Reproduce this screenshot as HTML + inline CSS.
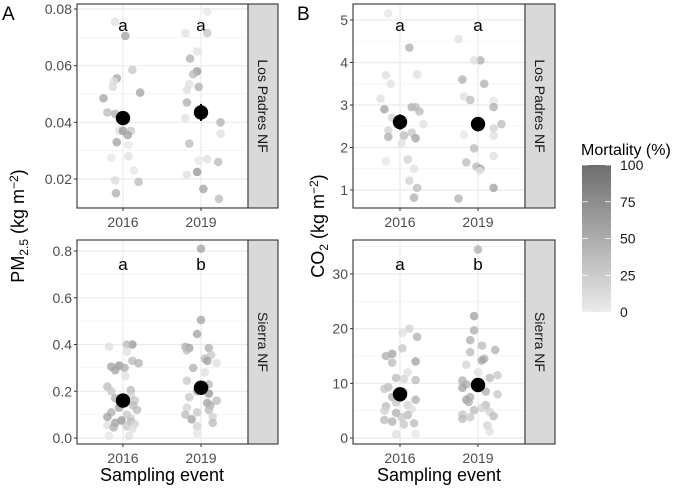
<!DOCTYPE html>
<html><head><meta charset="utf-8"><style>
body{margin:0;background:#fff}
svg{font-family:"Liberation Sans",sans-serif}
</style></head><body>
<svg id="c" width="685" height="491" xmlns="http://www.w3.org/2000/svg"></svg>
<script>
const categories=["2016","2019"];
const letters={lpA:["a","a"],snA:["a","b"],lpB:["a","a"],snB:["a","b"]};
const pmTicksLP=[0.02,0.04,0.06,0.08];
const pmTicksSN=[0.0,0.2,0.4,0.6,0.8];
const co2TicksLP=[1,2,3,4,5];
const co2TicksSN=[0,10,20,30];
const legendTicks=[0,25,50,75,100];
// [value, jitter (category units), mortality %]
const lpPM16=[[0.0755,-0.1,10],[0.0705,0.03,60],[0.0585,0.12,30],[0.0555,-0.08,60],[0.0545,-0.12,10],[0.0525,-0.13,15],[0.0505,0.22,60],[0.0485,-0.25,60],[0.0435,-0.2,40],[0.043,-0.1,50],[0.037,-0.05,10],[0.037,0,70],[0.037,0.1,30],[0.0355,0.06,60],[0.033,-0.08,60],[0.032,0.07,5],[0.028,0.07,10],[0.0275,-0.15,5],[0.023,0.14,5],[0.0195,-0.1,15],[0.019,0.2,40],[0.015,-0.09,50]];
const lpPM19=[[0.079,0.08,5],[0.0715,-0.2,10],[0.0715,0.08,30],[0.065,-0.05,10],[0.0625,-0.14,50],[0.058,-0.05,70],[0.057,-0.1,40],[0.0535,-0.15,10],[0.0525,-0.03,50],[0.0515,-0.18,10],[0.047,-0.18,50],[0.0415,-0.2,10],[0.040,0.25,50],[0.036,0.25,10],[0.0325,-0.15,40],[0.027,0.08,10],[0.0265,-0.03,5],[0.026,0.22,40],[0.0225,-0.05,70],[0.0215,-0.18,10],[0.0165,0.03,60],[0.013,0.23,40]];
const snPM16=[[0.40,0.12,70],[0.40,0.05,40],[0.39,-0.18,10],[0.37,0.05,10],[0.33,0.12,40],[0.32,0.2,50],[0.31,-0.05,70],[0.305,-0.15,60],[0.30,0.02,50],[0.29,-0.1,60],[0.265,0.03,10],[0.22,-0.2,40],[0.205,0.1,40],[0.20,-0.15,30],[0.18,0.1,20],[0.17,-0.1,50],[0.16,0.15,30],[0.14,0.13,40],[0.13,-0.05,60],[0.12,0.18,40],[0.11,-0.15,50],[0.10,0.05,30],[0.09,-0.2,60],[0.085,0.1,20],[0.075,-0.02,70],[0.07,0.1,40],[0.065,-0.1,60],[0.06,0.15,20],[0.055,-0.2,10],[0.05,0.05,30],[0.045,-0.12,50],[0.04,0.12,10],[0.01,-0.18,5],[0.008,0.08,10]];
const snPM19=[[0.81,0,60],[0.505,0,60],[0.445,-0.05,60],[0.39,-0.2,50],[0.385,0.1,50],[0.385,-0.15,60],[0.375,-0.18,40],[0.355,0.13,30],[0.34,0.05,40],[0.33,0.08,60],[0.32,0.2,10],[0.30,-0.1,50],[0.28,0.05,10],[0.245,-0.18,30],[0.23,0.1,40],[0.22,0.05,60],[0.2,-0.05,50],[0.19,0.1,70],[0.175,-0.15,30],[0.16,0.2,40],[0.15,0.08,60],[0.14,0.12,50],[0.13,-0.18,20],[0.12,0.1,40],[0.11,-0.05,30],[0.1,-0.2,40],[0.09,0.15,20],[0.08,-0.12,60],[0.065,0.15,40],[0.05,-0.05,20],[0.02,-0.05,5]];
const lpCO16=[[5.15,-0.15,5],[4.35,0.12,50],[3.7,-0.18,10],[3.72,0.22,10],[3.5,-0.12,10],[3.15,-0.25,10],[2.95,0.15,50],[2.95,0.2,40],[2.9,-0.2,60],[2.85,0.25,40],[2.7,-0.1,20],[2.55,0.3,10],[2.4,-0.15,20],[2.35,0.15,30],[2.28,0.05,40],[2.25,-0.15,50],[2.22,0.2,60],[2.1,0.02,10],[1.72,0.1,20],[1.68,-0.18,5],[1.5,0.18,10],[1.22,0.12,20],[1.05,0.22,40],[0.82,0.18,50]];
const lpCO19=[[4.55,-0.25,10],[4.05,0.03,50],[4.05,-0.05,10],[3.6,-0.2,50],[3.5,0.08,50],[3.2,-0.18,10],[3.12,-0.1,40],[3.1,0.2,5],[2.95,0.2,50],[2.55,0.3,40],[2.45,0.2,20],[2.3,-0.18,5],[2.28,0.2,10],[1.98,-0.05,40],[1.8,0.2,10],[1.65,-0.15,40],[1.55,-0.02,40],[1.5,0.03,60],[1.45,0.02,5],[1.05,0.2,60],[0.8,-0.25,50]];
const snCO16=[[20,0.12,20],[19.2,0.03,10],[18.5,0.22,50],[16.4,0.03,30],[15.4,-0.1,60],[15,-0.18,50],[14,0.2,60],[13.8,-0.1,40],[12,0.1,10],[11,-0.05,40],[10.6,0.2,40],[10.8,0.05,20],[9.3,-0.15,40],[9,-0.2,30],[8.5,0.05,20],[7.5,-0.1,50],[7,0.2,50],[6.5,-0.05,30],[6,0.1,20],[5.8,-0.18,40],[5.3,0.15,10],[5,-0.2,20],[4.6,-0.05,50],[4.2,0.1,40],[3.8,0.02,30],[3.3,-0.2,40],[3,-0.1,50],[2.7,0.18,40],[2.5,0.05,30],[0.7,-0.05,10],[0.8,0.2,5]];
const snCO19=[[34.5,0,50],[22.3,-0.05,60],[19.7,-0.05,50],[17.9,-0.1,50],[16.9,0.05,40],[16.1,0.22,50],[15.7,-0.1,40],[14.5,0.08,50],[14.2,0.05,60],[13.4,-0.15,20],[12,0.0,10],[11.5,0.25,30],[11,0.15,40],[10.5,-0.2,50],[9.8,-0.15,50],[9.2,-0.2,60],[8.5,0.1,50],[8,0.25,30],[7.5,-0.1,50],[7,-0.15,60],[6.6,-0.12,50],[6,0.1,40],[5.5,0.05,20],[5.1,-0.05,40],[4.8,0.15,20],[4.3,-0.2,30],[4,0.2,40],[3.8,-0.1,30],[3.5,-0.2,40],[2.3,0.12,20],[1.2,0.15,10]];
const meansLP_PM=[0.0415,0.0435], errLP_PM=[0.0025,0.003];
const meansSN_PM=[0.16,0.215], errSN_PM=[0.015,0.02];
const meansLP_CO=[2.6,2.55], errLP_CO=[0.18,0.17];
const meansSN_CO=[8.0,9.7], errSN_CO=[0.9,0.9];

const svg=document.getElementById('c');
const NS="http://www.w3.org/2000/svg";
function mk(t,a,p){const e=document.createElementNS(NS,t);for(const k in a)e.setAttribute(k,a[k]);(p||svg).appendChild(e);return e;}
function mortColor(m){const t=m/100;const c=Math.round(235-(235-110)*t);return `rgb(${c},${c},${c})`;}

function panel(o){
  const g=mk('g',{});
  
  
  const y=v=>o.y0+(v-o.v0)*(o.y1-o.y0)/(o.v1-o.v0);
  const xc=i=>o.xs[i];
  const step=o.xs[1]-o.xs[0];
  mk('rect',{x:o.L,y:o.T,width:o.R-o.L,height:o.B-o.T,fill:'#fff'},g);
  for(let i=0;i<o.ticks.length-1;i++){const v=(o.ticks[i]+o.ticks[i+1])/2;mk('line',{x1:o.L,x2:o.R,y1:y(v),y2:y(v),stroke:'#f2f2f2','stroke-width':0.8},g);}
  const bl=o.ticks[0]-(o.ticks[1]-o.ticks[0])/2; if(y(bl)<o.B)mk('line',{x1:o.L,x2:o.R,y1:y(bl),y2:y(bl),stroke:'#f2f2f2','stroke-width':0.8},g);
  const tl=o.ticks[o.ticks.length-1]+(o.ticks[1]-o.ticks[0])/2; if(y(tl)>o.T)mk('line',{x1:o.L,x2:o.R,y1:y(tl),y2:y(tl),stroke:'#f2f2f2','stroke-width':0.8},g);
  o.ticks.forEach((v,i)=>{
    mk('line',{x1:o.L,x2:o.R,y1:y(v),y2:y(v),stroke:'#ebebeb','stroke-width':1.2},g);
    mk('line',{x1:o.L-3,x2:o.L,y1:y(v),y2:y(v),stroke:'#333','stroke-width':1},g);
    const t=mk('text',{x:o.L-5,y:y(v)+5,'text-anchor':'end','font-size':14,fill:'#4d4d4d'},g);
    t.textContent=o.tickLabels[i];
    
    
  });
  categories.forEach((c,i)=>{
    mk('line',{x1:xc(i),x2:xc(i),y1:o.T,y2:o.B,stroke:'#ebebeb','stroke-width':1.2},g);
    mk('line',{x1:xc(i),x2:xc(i),y1:o.B,y2:o.B+3,stroke:'#333'},g);
    const t=mk('text',{x:xc(i),y:o.B+19,'text-anchor':'middle','font-size':14,fill:'#4d4d4d'},g);
    t.textContent=c;
    
    
    const l=mk('text',{x:xc(i),y:o.letterY,'text-anchor':'middle','font-size':17,fill:'#000'},g);
    l.textContent=o.letters[i];
    
    
  });
  o.groups.forEach((pts,i)=>{
    pts.forEach(p=>{
      const cc=mk('circle',{cx:xc(i)+p[1]*step,cy:y(p[0]),r:4.3,fill:mortColor(p[2]),'fill-opacity':0.75},g);
      
      
    });
  });
  o.means.forEach((m,i)=>{
    mk('line',{x1:xc(i),x2:xc(i),y1:y(m-o.err[i]),y2:y(m+o.err[i]),stroke:'#000','stroke-width':2},g);
    const d=mk('circle',{cx:xc(i),cy:y(m),r:7.2,fill:'#000'},g);
    
    
  });
  mk('rect',{x:o.L,y:o.T,width:o.R-o.L,height:o.B-o.T,fill:'none',stroke:'#333','stroke-width':1.1},g);
  const s=mk('rect',{x:o.R,y:o.T,width:30,height:o.B-o.T,fill:'#d9d9d9',stroke:'#333','stroke-width':1.1},g);
  
  
  const cx=o.R+15,cy=(o.T+o.B)/2;
  const st=mk('text',{x:cx,y:cy,'text-anchor':'middle','font-size':14,fill:'#1a1a1a',transform:`rotate(90 ${cx} ${cy}) translate(0 5)`},g);
  st.textContent=o.strip;
  
  
}
panel({name:'panel-a-los-padres',L:77,R:248,T:4,B:208,xs:[123,201],v0:0.02,y0:179,v1:0.08,y1:9,ticks:pmTicksLP,tickLabels:pmTicksLP.map(v=>v.toFixed(2)),groups:[lpPM16,lpPM19],means:meansLP_PM,err:errLP_PM,letters:letters.lpA,letterY:31,strip:'Los Padres NF'});
panel({name:'panel-a-sierra',L:77,R:248,T:240,B:444,xs:[123,201],v0:0,y0:438,v1:0.8,y1:251,ticks:pmTicksSN,tickLabels:pmTicksSN.map(v=>v.toFixed(1)),groups:[snPM16,snPM19],means:meansSN_PM,err:errSN_PM,letters:letters.snA,letterY:270,strip:'Sierra NF'});
panel({name:'panel-b-los-padres',L:353,R:525,T:4,B:208,xs:[400,478],v0:1,y0:190,v1:5,y1:20,ticks:co2TicksLP,tickLabels:co2TicksLP.map(String),groups:[lpCO16,lpCO19],means:meansLP_CO,err:errLP_CO,letters:letters.lpB,letterY:31,strip:'Los Padres NF'});
panel({name:'panel-b-sierra',L:353,R:525,T:240,B:444,xs:[400,478],v0:0,y0:438,v1:30,y1:274,ticks:co2TicksSN,tickLabels:co2TicksSN.map(String),groups:[snCO16,snCO19],means:meansSN_CO,err:errSN_CO,letters:letters.snB,letterY:270,strip:'Sierra NF'});

function txt(x,y,s,size,name,extra){const t=mk('text',Object.assign({x:x,y:y,'font-size':size,fill:'#000'},extra||{}));t.textContent=s;return t;}
txt(2,20,'A',19,'panel-label-a');
txt(297,20,'B',19,'panel-label-b');
txt(162,481,'Sampling event',18,'x-axis-title-a',{'text-anchor':'middle'});
txt(439,481,'Sampling event',18,'x-axis-title-b',{'text-anchor':'middle'});
const ya=txt(0,0,'',18,'y-axis-title-a',{'text-anchor':'middle',transform:'translate(24 226) rotate(-90)'});
ya.innerHTML='PM<tspan font-size="12" dy="4">2.5</tspan><tspan dy="-4"> (kg m</tspan><tspan font-size="12" dy="-6">−2</tspan><tspan dy="6">)</tspan>';
const yb=txt(0,0,'',18,'y-axis-title-b',{'text-anchor':'middle',transform:'translate(324 226) rotate(-90)'});
yb.innerHTML='CO<tspan font-size="12" dy="4">2</tspan><tspan dy="-4"> (kg m</tspan><tspan font-size="12" dy="-6">−2</tspan><tspan dy="6">)</tspan>';

txt(581,155,'Mortality (%)',16,'legend-title');
const defs=mk('defs',{});
const lg=mk('linearGradient',{id:'gr',x1:0,y1:1,x2:0,y2:0},defs);
mk('stop',{offset:0,'stop-color':mortColor(0)},lg);
mk('stop',{offset:1,'stop-color':mortColor(100)},lg);
const bar=mk('rect',{x:582,y:165,width:29,height:147,fill:'url(#gr)'});


legendTicks.forEach(v=>{
  const yy=312-v/100*147;
  mk('line',{x1:582,x2:588,y1:yy,y2:yy,stroke:'#fff','stroke-width':0.8});
  mk('line',{x1:605,x2:611,y1:yy,y2:yy,stroke:'#fff','stroke-width':0.8});
  txt(620,yy+5,String(v),14,'legend-tick-label',{fill:'#1a1a1a'});
});
</script>
</body></html>
